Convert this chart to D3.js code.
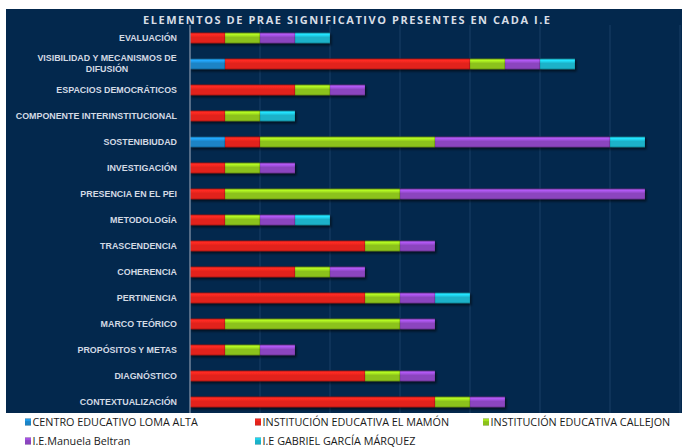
<!DOCTYPE html>
<html>
<head>
<meta charset="utf-8">
<script src="https://cdn.jsdelivr.net/npm/d3@7"></script>
<style>
  html, body { margin: 0; padding: 0; background: #ffffff; }
  svg { display: block; }
</style>
</head>
<body>
<svg id="chart" width="682" height="448"></svg>
<script>
const categories = [
  "EVALUACIÓN",
  "VISIBILIDAD Y MECANISMOS DE DIFUSIÓN",
  "ESPACIOS DEMOCRÁTICOS",
  "COMPONENTE INTERINSTITUCIONAL",
  "SOSTENIBIUDAD",
  "INVESTIGACIÓN",
  "PRESENCIA EN EL PEI",
  "METODOLOGÍA",
  "TRASCENDENCIA",
  "COHERENCIA",
  "PERTINENCIA",
  "MARCO TEÓRICO",
  "PROPÓSITOS Y METAS",
  "DIAGNÓSTICO",
  "CONTEXTUALIZACIÓN"
];
const seriesNames = [
  "CENTRO EDUCATIVO LOMA ALTA",
  "INSTITUCIÓN EDUCATIVA EL MAMÓN",
  "INSTITUCIÓN EDUCATIVA CALLEJON",
  "I.E.Manuela Beltran",
  "I.E GABRIEL GARCÍA MÁRQUEZ"
];
const lomaAlta   = [0, 1, 0, 0, 1, 0, 0, 0, 0, 0, 0, 0, 0, 0, 0];
const elMamon    = [1, 7, 3, 1, 1, 1, 1, 1, 5, 3, 5, 1, 1, 5, 7];
const callejon   = [1, 1, 1, 1, 5, 1, 5, 1, 1, 1, 1, 5, 1, 1, 1];
const manuela    = [1, 1, 1, 0, 5, 1, 7, 1, 1, 1, 1, 1, 1, 1, 1];
const garcia     = [1, 1, 0, 1, 1, 0, 0, 1, 0, 0, 1, 0, 0, 0, 0];
const xTicks = [0, 2, 4, 6, 8, 10, 12, 14];
const title = "ELEMENTOS DE PRAE SIGNIFICATIVO PRESENTES EN CADA I.E";

const colors = ["#1b84c6", "#e2221c", "#8cc21b", "#8b45bf", "#1bb2c9"];

const seriesArrays = [lomaAlta, elMamon, callejon, manuela, garcia];
const table = categories.map((c, i) => {
  const row = { cat: c };
  seriesNames.forEach((s, j) => row[s] = seriesArrays[j][i]);
  return row;
});

const svg = d3.select("#chart");
const defs = svg.append("defs");

colors.forEach((col, i) => {
  const g = defs.append("linearGradient").attr("id", "g" + i)
    .attr("x1", 0).attr("y1", 0).attr("x2", 0).attr("y2", 1);
  g.append("stop").attr("offset", "0%").attr("stop-color", d3.color(col).darker(0.6));
  g.append("stop").attr("offset", "18%").attr("stop-color", d3.color(col).brighter(0.7));
  g.append("stop").attr("offset", "45%").attr("stop-color", col);
  g.append("stop").attr("offset", "85%").attr("stop-color", col);
  g.append("stop").attr("offset", "100%").attr("stop-color", d3.color(col).darker(0.9));
});
const f = defs.append("filter").attr("id", "shadow")
  .attr("x", "-5%").attr("y", "-30%").attr("width", "115%").attr("height", "190%");
f.append("feDropShadow").attr("dx", 1.5).attr("dy", 2).attr("stdDeviation", 1.2)
  .attr("flood-color", "#000000").attr("flood-opacity", 0.55);

// panel
svg.append("rect").attr("x", 6).attr("y", 9).attr("width", 676).attr("height", 404)
  .attr("fill", "#03284d");

const x = d3.scaleLinear().domain([0, 14]).range([190, 680]);
const y = d3.scaleBand().domain(categories).range([25, 415])
  .paddingInner(0.58).paddingOuter(0.29);

// gridlines
svg.append("g").selectAll("line").data(xTicks.slice(1)).join("line")
  .attr("x1", d => x(d)).attr("x2", d => x(d))
  .attr("y1", 25).attr("y2", 413)
  .attr("stroke", "#1a3f66").attr("stroke-width", 1);

// title
svg.append("text").attr("x", 143).attr("y", 24)
  .attr("font-family", "'Open Sans', sans-serif")
  .attr("font-weight", "bold").attr("font-size", 11)
  .attr("textLength", 407).attr("lengthAdjust", "spacing")
  .attr("fill", "#d8dee6")
  .text(title);

// stacked bars
const stack = d3.stack().keys(seriesNames);
const stacked = stack(table);
const layers = svg.append("g").selectAll("g").data(stacked).join("g")
  .attr("fill", (d, i) => `url(#g${i})`);
layers.selectAll("rect").data(d => d.filter(p => p[1] - p[0] > 0)).join("rect")
  .attr("x", d => x(d[0]))
  .attr("width", d => x(d[1]) - x(d[0]))
  .attr("y", d => y(d.data.cat))
  .attr("height", y.bandwidth())
  .attr("filter", "url(#shadow)")
  .attr("stroke", "rgba(0,0,0,0.25)").attr("stroke-width", 0.5);

// y axis
const yAxis = svg.append("g").attr("transform", "translate(190,0)")
  .call(d3.axisLeft(y).tickSize(0).tickPadding(13));
yAxis.select(".domain").attr("stroke", "#8a9ab0").attr("stroke-width", 1.2)
  .attr("d", `M0,25V413`);
yAxis.selectAll("text")
  .attr("font-family", "'Liberation Sans', sans-serif")
  .attr("font-size", 8.9).attr("font-weight", "bold")
  .attr("fill", "#d3dae4");
yAxis.selectAll(".tick text").filter(d => d === "VISIBILIDAD Y MECANISMOS DE DIFUSIÓN")
  .each(function() {
    const t = d3.select(this);
    t.text(null).attr("text-anchor", "middle").attr("x", -83);
    t.append("tspan").attr("x", -83).attr("dy", "-0.35em").text("VISIBILIDAD Y MECANISMOS DE");
    t.append("tspan").attr("x", -83).attr("dy", "1.25em").text("DIFUSIÓN");
  });

// legend
const legendPos = [[25, 422], [255, 422], [483, 422], [25, 441], [255, 441]];
const lg = svg.append("g").selectAll("g").data(seriesNames).join("g")
  .attr("transform", (d, i) => `translate(${legendPos[i][0]},${legendPos[i][1]})`);
lg.append("rect").attr("x", 0).attr("y", -3.5).attr("width", 6).attr("height", 7)
  .attr("fill", (d, i) => `url(#g${i})`);
lg.append("text").attr("x", 7.5).attr("y", 0).attr("dy", "0.35em")
  .attr("font-family", "'Open Sans', sans-serif").attr("font-size", 10.8)
  .attr("fill", "#1a1a1a")
  .text(d => d);
</script>
</body>
</html>
